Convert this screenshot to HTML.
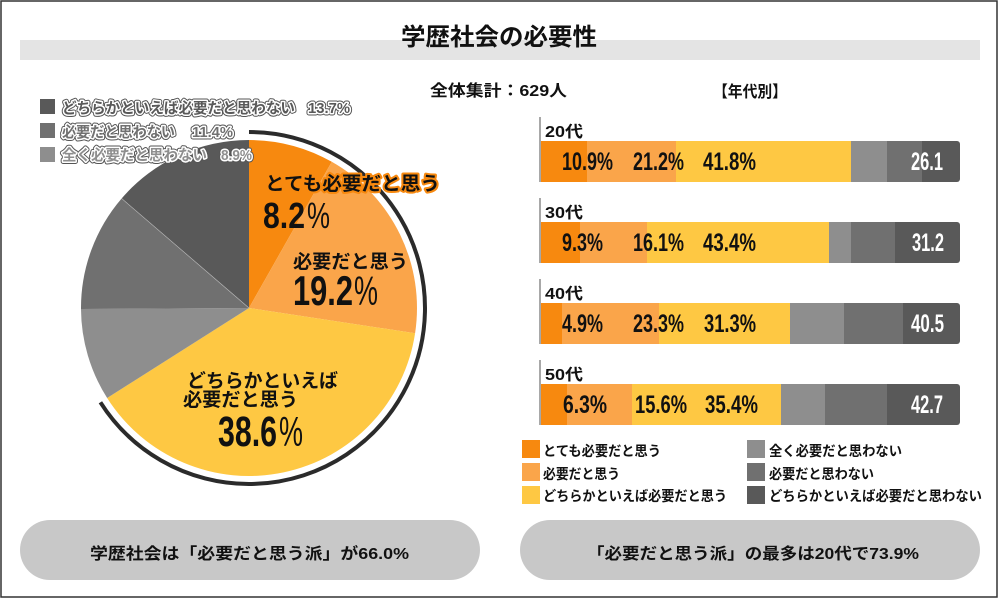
<!DOCTYPE html>
<html><head><meta charset="utf-8"><style>
html,body{margin:0;padding:0;background:#fff;}
svg{display:block;}
text{font-family:"Liberation Sans","Noto Sans CJK JP",sans-serif;}
.n{font-family:"Liberation Sans Narrow","Liberation Sans",sans-serif;font-weight:bold;}
</style></head><body>
<svg width="1000" height="600" viewBox="0 0 1000 600" xmlns="http://www.w3.org/2000/svg">
<rect x="0" y="0" width="1000" height="600" fill="#fff"/>
<rect x="1" y="1" width="996" height="596" fill="none" stroke="#333" stroke-width="1.5"/>

<!-- Title -->
<rect x="20" y="40" width="960" height="20" fill="#e4e4e4"/>
<text x="499" y="45" font-size="24" font-weight="bold" fill="#111" text-anchor="middle" textLength="196" lengthAdjust="spacingAndGlyphs">学歴社会の必要性</text>

<!-- Pie -->
<path d="M249 308 L249 140 A168 168 0 0 1 331.77 161.81 Z" fill="#F7890F"/>
<path d="M249 308 L331.77 161.81 A168 168 0 0 1 415.09 333.24 Z" fill="#FAA54A"/>
<path d="M249 308 L415.09 333.24 A168 168 0 0 1 107.15 398.02 Z" fill="#FEC843"/>
<path d="M249 308 L107.15 398.02 A168 168 0 0 1 81.00 309.06 Z" fill="#8e8e8e"/>
<path d="M249 308 L81.00 309.06 A168 168 0 0 1 121.62 198.46 Z" fill="#707070"/>
<path d="M249 308 L121.62 198.46 A168 168 0 0 1 249 140 Z" fill="#595959"/>
<line x1="249" y1="308" x2="121.62" y2="198.46" stroke="#bbb" stroke-width="0.6"/>
<path d="M249 132 A176 176 0 1 1 100.40 402.31" fill="none" stroke="#2b2b2b" stroke-width="4"/>

<!-- Pie legend -->
<rect x="40" y="99" width="15" height="15" fill="#595959"/>
<rect x="40" y="123" width="15" height="15" fill="#707070"/>
<rect x="40" y="147" width="15" height="15" fill="#8e8e8e"/>
<g font-size="15" font-weight="bold" stroke-linejoin="round">
<g stroke="#555" stroke-width="5" fill="#555">
<text x="62" y="113" textLength="233" lengthAdjust="spacingAndGlyphs">どちらかといえば必要だと思わない</text>
<text x="308" y="113" textLength="42" lengthAdjust="spacingAndGlyphs">13.7%</text>
<text x="62" y="137" textLength="113" lengthAdjust="spacingAndGlyphs">必要だと思わない</text>
<text x="192" y="137" textLength="41" lengthAdjust="spacingAndGlyphs">11.4%</text>
<text x="62" y="160" textLength="145" lengthAdjust="spacingAndGlyphs">全く必要だと思わない</text>
<text x="221" y="160" textLength="31" lengthAdjust="spacingAndGlyphs">8.9%</text>
</g>
<g stroke="#fff" stroke-width="3" paint-order="stroke">
<text x="62" y="113" fill="#595959" textLength="233" lengthAdjust="spacingAndGlyphs">どちらかといえば必要だと思わない</text>
<text x="308" y="113" fill="#595959" textLength="42" lengthAdjust="spacingAndGlyphs">13.7%</text>
<text x="62" y="137" fill="#707070" textLength="113" lengthAdjust="spacingAndGlyphs">必要だと思わない</text>
<text x="192" y="137" fill="#707070" textLength="41" lengthAdjust="spacingAndGlyphs">11.4%</text>
<text x="62" y="160" fill="#8e8e8e" textLength="145" lengthAdjust="spacingAndGlyphs">全く必要だと思わない</text>
<text x="221" y="160" fill="#8e8e8e" textLength="31" lengthAdjust="spacingAndGlyphs">8.9%</text>
</g>
</g>

<!-- Pie labels -->
<text x="265" y="190" font-size="19" font-weight="bold" fill="#111" stroke="#F7890F" stroke-width="4" stroke-linejoin="round" paint-order="stroke" textLength="175" lengthAdjust="spacingAndGlyphs">とても必要だと思う</text>
<text class="n" x="263" y="228" font-size="36" fill="#111" textLength="42" lengthAdjust="spacingAndGlyphs">8.2</text>
<text x="307" y="228" font-size="36" fill="#111" textLength="23" lengthAdjust="spacingAndGlyphs">%</text>

<text x="293" y="268" font-size="19" font-weight="bold" fill="#111" textLength="115" lengthAdjust="spacingAndGlyphs">必要だと思う</text>
<text class="n" x="293" y="305" font-size="42" fill="#111" textLength="60" lengthAdjust="spacingAndGlyphs">19.2</text>
<text x="354" y="305" font-size="41" fill="#111" textLength="24" lengthAdjust="spacingAndGlyphs">%</text>

<text x="187" y="387" font-size="19" font-weight="bold" fill="#111" textLength="151" lengthAdjust="spacingAndGlyphs">どちらかといえば</text>
<text x="183" y="406" font-size="19" font-weight="bold" fill="#111" textLength="115" lengthAdjust="spacingAndGlyphs">必要だと思う</text>
<text class="n" x="218" y="446" font-size="43" fill="#111" textLength="59" lengthAdjust="spacingAndGlyphs">38.6</text>
<text x="279" y="446" font-size="42" fill="#111" textLength="24" lengthAdjust="spacingAndGlyphs">%</text>

<!-- Right header -->
<text x="430" y="96" font-size="16" font-weight="bold" fill="#111" textLength="137" lengthAdjust="spacingAndGlyphs">全体集計：629人</text>
<text x="713" y="97" font-size="16" font-weight="bold" fill="#111" textLength="74" lengthAdjust="spacingAndGlyphs">【年代別】</text>

<!-- Bars -->
<g>
<!-- 20代 -->
<line x1="540" y1="117" x2="540" y2="182" stroke="#a8a8a8" stroke-width="2"/>
<text x="545" y="137" font-size="16" font-weight="bold" fill="#111" textLength="38" lengthAdjust="spacingAndGlyphs">20代</text>
<rect x="917" y="141" width="43" height="41" rx="3" fill="#595959"/>
<rect x="541" y="141" width="46" height="41" fill="#F7890F"/>
<rect x="587" y="141" width="89" height="41" fill="#FAA54A"/>
<rect x="676" y="141" width="175" height="41" fill="#FEC843"/>
<rect x="851" y="141" width="36" height="41" fill="#8e8e8e"/>
<rect x="887" y="141" width="35" height="41" fill="#707070"/>
<g class="n" font-size="25" fill="#111">
<text class="n" x="562" y="170" textLength="51" lengthAdjust="spacingAndGlyphs">10.9%</text>
<text class="n" x="633" y="170" textLength="51" lengthAdjust="spacingAndGlyphs">21.2%</text>
<text class="n" x="703" y="170" textLength="53" lengthAdjust="spacingAndGlyphs">41.8%</text>
<text class="n" x="911" y="170" fill="#fff" textLength="32" lengthAdjust="spacingAndGlyphs">26.1</text>
</g>

<!-- 30代 -->
<line x1="540" y1="198" x2="540" y2="263" stroke="#a8a8a8" stroke-width="2"/>
<text x="545" y="218" font-size="16" font-weight="bold" fill="#111" textLength="38" lengthAdjust="spacingAndGlyphs">30代</text>
<rect x="890" y="222" width="70" height="41" rx="3" fill="#595959"/>
<rect x="541" y="222" width="39" height="41" fill="#F7890F"/>
<rect x="580" y="222" width="67" height="41" fill="#FAA54A"/>
<rect x="647" y="222" width="182" height="41" fill="#FEC843"/>
<rect x="829" y="222" width="22" height="41" fill="#8e8e8e"/>
<rect x="851" y="222" width="44" height="41" fill="#707070"/>
<g class="n" font-size="25" fill="#111">
<text class="n" x="562" y="251" textLength="41" lengthAdjust="spacingAndGlyphs">9.3%</text>
<text class="n" x="633" y="251" textLength="51" lengthAdjust="spacingAndGlyphs">16.1%</text>
<text class="n" x="703" y="251" textLength="53" lengthAdjust="spacingAndGlyphs">43.4%</text>
<text class="n" x="912" y="251" fill="#fff" textLength="32" lengthAdjust="spacingAndGlyphs">31.2</text>
</g>

<!-- 40代 -->
<line x1="540" y1="279" x2="540" y2="344" stroke="#a8a8a8" stroke-width="2"/>
<text x="545" y="299" font-size="16" font-weight="bold" fill="#111" textLength="38" lengthAdjust="spacingAndGlyphs">40代</text>
<rect x="898" y="303" width="62" height="41" rx="3" fill="#595959"/>
<rect x="541" y="303" width="21" height="41" fill="#F7890F"/>
<rect x="562" y="303" width="97" height="41" fill="#FAA54A"/>
<rect x="659" y="303" width="131" height="41" fill="#FEC843"/>
<rect x="790" y="303" width="54" height="41" fill="#8e8e8e"/>
<rect x="844" y="303" width="59" height="41" fill="#707070"/>
<g class="n" font-size="25" fill="#111">
<text class="n" x="562" y="332" textLength="41" lengthAdjust="spacingAndGlyphs">4.9%</text>
<text class="n" x="633" y="332" textLength="51" lengthAdjust="spacingAndGlyphs">23.3%</text>
<text class="n" x="704" y="332" textLength="52" lengthAdjust="spacingAndGlyphs">31.3%</text>
<text class="n" x="911" y="332" fill="#fff" textLength="33" lengthAdjust="spacingAndGlyphs">40.5</text>
</g>

<!-- 50代 -->
<line x1="540" y1="360" x2="540" y2="425" stroke="#a8a8a8" stroke-width="2"/>
<text x="545" y="380" font-size="16" font-weight="bold" fill="#111" textLength="38" lengthAdjust="spacingAndGlyphs">50代</text>
<rect x="882" y="384" width="78" height="41" rx="3" fill="#595959"/>
<rect x="541" y="384" width="26" height="41" fill="#F7890F"/>
<rect x="567" y="384" width="65" height="41" fill="#FAA54A"/>
<rect x="632" y="384" width="149" height="41" fill="#FEC843"/>
<rect x="781" y="384" width="44" height="41" fill="#8e8e8e"/>
<rect x="825" y="384" width="62" height="41" fill="#707070"/>
<g class="n" font-size="25" fill="#111">
<text class="n" x="563" y="413" textLength="44" lengthAdjust="spacingAndGlyphs">6.3%</text>
<text class="n" x="635" y="413" textLength="52" lengthAdjust="spacingAndGlyphs">15.6%</text>
<text class="n" x="705" y="413" textLength="53" lengthAdjust="spacingAndGlyphs">35.4%</text>
<text class="n" x="911" y="413" fill="#fff" textLength="32" lengthAdjust="spacingAndGlyphs">42.7</text>
</g>
</g>

<!-- Bar legend -->
<rect x="522" y="440" width="18" height="18" fill="#F7890F"/>
<rect x="522" y="463" width="18" height="18" fill="#FAA54A"/>
<rect x="522" y="486" width="18" height="18" fill="#FEC843"/>
<rect x="747" y="440" width="18" height="18" fill="#8e8e8e"/>
<rect x="747" y="463" width="18" height="18" fill="#707070"/>
<rect x="747" y="486" width="18" height="18" fill="#595959"/>
<g font-size="14" font-weight="bold" fill="#111">
<text x="543" y="456" textLength="118" lengthAdjust="spacingAndGlyphs">とても必要だと思う</text>
<text x="543" y="479" textLength="77" lengthAdjust="spacingAndGlyphs">必要だと思う</text>
<text x="543" y="501" textLength="184" lengthAdjust="spacingAndGlyphs">どちらかといえば必要だと思う</text>
<text x="769" y="456" textLength="133" lengthAdjust="spacingAndGlyphs">全く必要だと思わない</text>
<text x="769" y="479" textLength="105" lengthAdjust="spacingAndGlyphs">必要だと思わない</text>
<text x="769" y="501" textLength="213" lengthAdjust="spacingAndGlyphs">どちらかといえば必要だと思わない</text>
</g>

<!-- Bottom pills -->
<rect x="20" y="520" width="460" height="60" rx="30" fill="#c8c8c8"/>
<rect x="520" y="520" width="460" height="60" rx="30" fill="#c8c8c8"/>
<text x="90" y="559" font-size="16" font-weight="bold" fill="#111" textLength="319" lengthAdjust="spacingAndGlyphs">学歴社会は「必要だと思う派」が66.0%</text>
<text x="587" y="559" font-size="16" font-weight="bold" fill="#111" textLength="332" lengthAdjust="spacingAndGlyphs">「必要だと思う派」の最多は20代で73.9%</text>
</svg>
</body></html>
